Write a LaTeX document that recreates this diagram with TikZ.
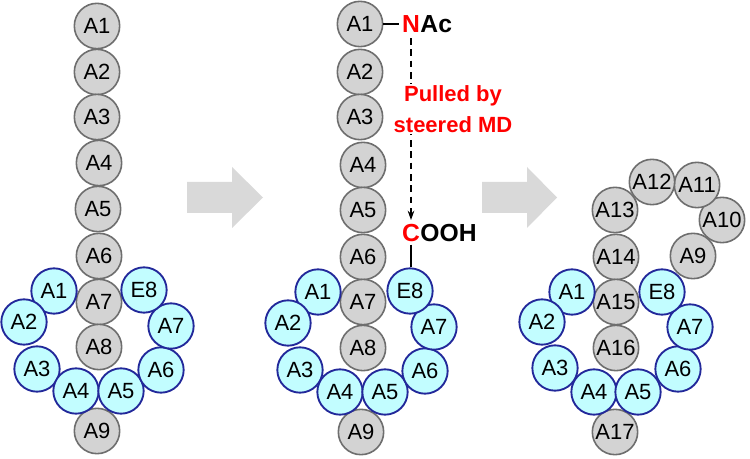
\documentclass[tikz,border=0pt]{standalone}
\usepackage{fontspec}
\setmainfont{Liberation Sans}
\usepackage{xcolor}
\usepackage{tikz}
\usetikzlibrary{positioning, shapes, calc, arrows, arrows.meta}

\definecolor{resgray}{HTML}{D3D3D3}
\definecolor{resline}{HTML}{6E6E6E}
\definecolor{ringfill}{HTML}{C2FDFF}
\definecolor{ringline}{HTML}{22289A}
\definecolor{blockgray}{HTML}{D9D9D9}
\definecolor{pullred}{HTML}{FF0000}

\begin{document}
\begin{tikzpicture}[x=0.75pt, y=-0.75pt]

		\tikzstyle{resg}=[circle, draw=resline, line width=1.2pt, fill=resgray, minimum size=34pt, inner sep=0pt, font=\fontsize{16.5}{16.5}\selectfont]
		\tikzstyle{resc}=[circle, draw=ringline, line width=1.4pt, fill=ringfill, minimum size=34pt, inner sep=0pt, font=\fontsize{16.5}{16.5}\selectfont]
		\tikzstyle{chem}=[inner sep=0pt, font=\fontsize{18.5}{18.5}\selectfont\bfseries]
		\tikzstyle{block}=[fill=blockgray, draw=none]

		\useasboundingbox (0,0) rectangle (750,459);

		%% panel 1
		\node (pa1) at (97,26) [resg] {A1};
		\node (pa2) at (97,72) [resg] {A2};
		\node (pa3) at (97,117) [resg] {A3};
		\node (pa4) at (99,163) [resg] {A4};
		\node (pa5) at (98,209) [resg] {A5};
		\node (pa6) at (99,256) [resg] {A6};
		\node (pa7) at (99,302) [resg] {A7};
		\node (pa8) at (99,347) [resg] {A8};
		\node (pa9) at (97,431) [resg] {A9};

		\node (pc1) at (54,291) [resc] {A1};
		\node (pc2) at (24,322) [resc] {A2};
		\node (pc3) at (37,369) [resc] {A3};
		\node (pc4) at (76,391) [resc] {A4};
		\node (pc5) at (121,391) [resc] {A5};
		\node (pc6) at (161,370) [resc] {A6};
		\node (pc7) at (171,326) [resc] {A7};
		\node (pc8) at (144,290) [resc] {E8};

		\fill [block] (187,182) -- (232,182) -- (232,167) -- (263,197.5) -- (232,228) -- (232,213) -- (187,213) -- cycle;

		%% panel 2
		\node (qa1) at (360,24) [resg] {A1};
		\node (qa2) at (360,72) [resg] {A2};
		\node (qa3) at (360,117) [resg] {A3};
		\node (qa4) at (363,165) [resg] {A4};
		\node (qa5) at (363,210) [resg] {A5};
		\node (qa6) at (363,257) [resg] {A6};
		\node (qa7) at (363,302) [resg] {A7};
		\node (qa8) at (363,348) [resg] {A8};
		\node (qa9) at (361,432) [resg] {A9};

		\node (qc1) at (318,292) [resc] {A1};
		\node (qc2) at (288,323) [resc] {A2};
		\node (qc3) at (300,370) [resc] {A3};
		\node (qc4) at (340,392) [resc] {A4};
		\node (qc5) at (385,392) [resc] {A5};
		\node (qc6) at (425,371) [resc] {A6};
		\node (qc7) at (434,327) [resc] {A7};
		\node (qc8) at (410,291) [resc] {E8};

		\node (nN) at (411,24) [chem, text=pullred] {N};
		\node (nAc) [chem, right=0pt of nN] {Ac};
		\node (cC) at (411,233) [chem, text=pullred] {C};
		\node (cOOH) [chem, right=0pt of cC] {OOH};

		\draw [line width=0.9pt, shorten >=2pt] (qa1) -- (nN);
		\draw [line width=0.9pt, shorten <=2pt] (cC) -- (cC |- qc8.north);
		\draw [-{Stealth[length=7pt, width=5pt]}, line width=0.8pt, dash pattern=on 5pt off 3.5pt, shorten <=4pt, shorten >=3pt] (nN) -- (cC);

		\node (pull) at (453,109) [fill=white, inner sep=1pt, align=center, text=pullred, font=\fontsize{16.5}{23}\selectfont\bfseries] {Pulled by\\steered MD};

		\fill [block] (482,182) -- (527,182) -- (527,167) -- (557,197.5) -- (527,228) -- (527,213) -- (482,213) -- cycle;

		%% panel 3
		\node (ra9) at (693,256) [resg] {A9};
		\node (ra10) at (722,220) [resg] {A10};
		\node (ra11) at (697,185) [resg] {A11};
		\node (ra12) at (652,182) [resg] {A12};
		\node (ra13) at (615,210) [resg] {A13};
		\node (ra14) at (616,257) [resg] {A14};
		\node (ra15) at (616,302) [resg] {A15};
		\node (ra16) at (616,348) [resg] {A16};
		\node (ra17) at (615,432) [resg] {A17};

		\node (rc1) at (572,292) [resc] {A1};
		\node (rc2) at (542,322) [resc] {A2};
		\node (rc3) at (555,368) [resc] {A3};
		\node (rc4) at (594,392) [resc] {A4};
		\node (rc5) at (638,392) [resc] {A5};
		\node (rc6) at (678,369) [resc] {A6};
		\node (rc7) at (690,327) [resc] {A7};
		\node (rc8) at (662,292) [resc] {E8};

\end{tikzpicture}
\end{document}
